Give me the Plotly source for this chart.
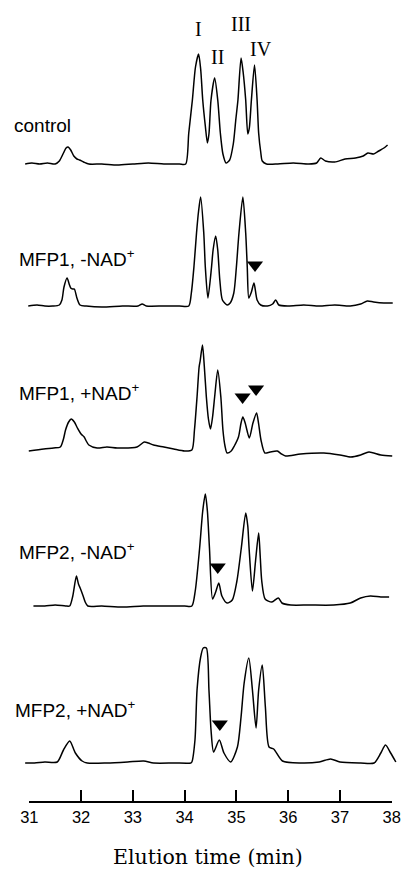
import plotly.graph_objects as go

W, H = 403, 869

# ---------------- data (elution time in min, detector signal in a.u.) ----------------
tick_vals = [31, 32, 33, 34, 35, 36, 37, 38]
tick_labels = ["31", "32", "33", "34", "35", "36", "37", "38"]

sample_names = [
    "control",
    "MFP1, -NAD<sup>+</sup>",
    "MFP1, +NAD<sup>+</sup>",
    "MFP2, -NAD<sup>+</sup>",
    "MFP2, +NAD<sup>+</sup>",
]

control_t = [30.92, 31.05, 31.20, 31.35, 31.50, 31.58, 31.66, 31.71, 31.75, 31.80, 31.86, 31.92, 31.97,
             32.05, 32.15, 32.40, 32.70, 33.00, 33.30, 33.60, 33.90, 34.02, 34.08, 34.15, 34.21, 34.27,
             34.31, 34.35, 34.40, 34.44, 34.47, 34.51, 34.58, 34.64, 34.69, 34.74, 34.80, 34.87, 34.94,
             34.99, 35.03, 35.09, 35.13, 35.18, 35.22, 35.25, 35.29, 35.35, 35.40, 35.43, 35.47, 35.50,
             35.58, 35.80, 36.10, 36.40, 36.55, 36.63, 36.72, 36.90, 37.10, 37.30, 37.45, 37.54, 37.65,
             37.75, 37.85, 37.92]
control_v = [0, 1, 0, 1, 0, 3, 11, 16, 17, 14, 8, 5, 4,
             2, 0, 0, -1, 0, 1, 0, 0, 0, 31, 64, 97, 110,
             95, 64, 38, 21, 30, 64, 86, 64, 31, 10, 1, 4, 20,
             45, 64, 106, 92, 64, 30, 36, 64, 99, 64, 31, 12, 3,
             0, 0, 1, 0, 1, 6, 3, 2, 5, 6, 8, 11, 10,
             13, 16, 19]

mfp1_minus_t = [30.98, 31.15, 31.30, 31.45, 31.58, 31.63, 31.67, 31.73, 31.77, 31.80, 31.84, 31.87, 31.92,
                31.98, 32.10, 32.40, 32.80, 33.10, 33.18, 33.26, 33.60, 33.90, 34.08, 34.13, 34.18, 34.23,
                34.27, 34.31, 34.37, 34.40, 34.45, 34.52, 34.55, 34.60, 34.64, 34.68, 34.73, 34.82, 34.88,
                34.95, 35.00, 35.05, 35.125, 35.18, 35.21, 35.24, 35.29, 35.34, 35.40, 35.47, 35.60, 35.70,
                35.76, 35.82, 36.00, 36.30, 36.60, 36.90, 37.20, 37.40, 37.53, 37.65, 37.85, 38.02]
mfp1_minus_v = [0, 1, 0, 0, 1, 6, 19, 28, 22, 18, 17, 17, 8,
                1, 0, -1, 0, 0, 2, 0, 0, 0, 0, 13, 39, 73,
                95, 109, 73, 39, 8, 39, 56, 70, 56, 26, 6, 1, 3,
                13, 39, 73, 109, 73, 39, 8, 14, 23, 6, 1, 0, 2,
                6, 1, 0, 1, 0, 1, 0, 2, 5, 4, 3, 3]

mfp1_plus_t = [30.99, 31.28, 31.47, 31.60, 31.66, 31.70, 31.76, 31.81, 31.87, 31.93, 32.00, 32.06, 32.10,
               32.15, 32.31, 32.50, 32.70, 33.08, 33.22, 33.30, 33.40, 33.60, 33.79, 34.00, 34.14, 34.19,
               34.24, 34.28, 34.30, 34.345, 34.38, 34.42, 34.46, 34.50, 34.54, 34.58, 34.64, 34.70, 34.74,
               34.78, 34.82, 34.90, 34.96, 35.04, 35.09, 35.125, 35.17, 35.25, 35.32, 35.39, 35.43, 35.475,
               35.55, 35.65, 35.79, 35.87, 35.95, 36.24, 36.69, 37.00, 37.21, 37.40, 37.56, 37.79, 38.01]
mfp1_plus_v = [0, 2, 3, 4, 12, 21, 29, 32, 29, 23, 17, 14, 10,
               6, 3, 4, 3, 4, 9, 8, 6, 4, 2, 0, 1, 21,
               54, 84, 90, 106, 85, 54, 32, 22, 34, 54, 81, 54, 21,
               5, -2, 0, 5, 14, 28, 34, 28, 13, 28, 38, 27, 11,
               -2, -1, 0, -3, -5, -3, -2, -4, -6, -4, -1, -4, -5]

mfp2_minus_t = [31.08, 31.30, 31.50, 31.70, 31.78, 31.84, 31.91, 31.95, 31.99, 32.04, 32.08, 32.13, 32.40,
                32.80, 33.20, 33.60, 34.00, 34.14, 34.205, 34.29, 34.35, 34.40, 34.44, 34.48, 34.54, 34.60,
                34.66, 34.72, 34.82, 34.92, 35.01, 35.095, 35.18, 35.22, 35.245, 35.31, 35.37, 35.43, 35.46,
                35.49, 35.555, 35.685, 35.81, 35.88, 36.05, 36.40, 36.88, 37.20, 37.40, 37.59, 37.79, 37.95]
mfp2_minus_v = [0, 0, 1, 0, 0, 10, 30, 22, 17, 10, 4, 0, 0,
                -1, 0, 0, 0, 0, 15, 58, 95, 112, 95, 58, 7, 14,
                23, 10, 3, 6, 25, 58, 93, 80, 58, 15, 45, 73, 50,
                25, 7, 4, 8, 3, 1, 1, 1, 3, 8, 10, 9, 9]

mfp2_plus_t = [30.92, 31.10, 31.30, 31.54, 31.66, 31.78, 31.89, 32.02, 32.12, 32.50, 32.90, 33.21, 33.40,
               33.80, 34.12, 34.14, 34.20, 34.24, 34.31, 34.36, 34.42, 34.47, 34.51, 34.56, 34.67, 34.76,
               34.89, 35.02, 35.09, 35.15, 35.24, 35.31, 35.38, 35.43, 35.50, 35.56, 35.63, 35.72, 35.89,
               36.24, 36.60, 36.82, 37.00, 37.40, 37.66, 37.79, 37.88, 37.98, 38.08]
mfp2_plus_v = [0, 0, 1, 1, 13, 22, 10, 2, 0, 0, 1, 2, 0,
               0, 0, 1, 23, 73, 106, 115, 115, 73, 33, 11, 23, 10,
               1, 16, 46, 80, 105, 73, 35, 73, 98, 56, 16, 14, 2,
               0, 1, 4, 1, 0, 0, 10, 18, 10, 1]

series_t = [control_t, mfp1_minus_t, mfp1_plus_t, mfp2_minus_t, mfp2_plus_t]
series_v = [control_v, mfp1_minus_v, mfp1_plus_v, mfp2_minus_v, mfp2_plus_v]

# arrowheads marking new / changed peaks: (sample index, time, signal)
arrow_sample = [1, 2, 2, 3, 4]
arrow_t = [35.36, 35.12, 35.38, 34.64, 34.68]
arrow_v = [41, 54, 62, 39, 39]

peak_names = ["I", "II", "III", "IV"]
peak_label_t = [34.264, 34.626, 35.095, 35.481]

# ---------------- layout helpers (pixel geometry) ----------------
offsets = [705, 563, 418, 263, 106]          # vertical stacking of traces
label_dy = [39, 48.5, 59, 55, 54]            # sample-name label height above baseline
label_px = [11.7, 16.7, 17.3, 16.7, 12.7]    # sample-name label left edge (px)
peak_label_y = [839.7, 812.3, 845.3, 820.3]

ax_l, ax_r = 29.3, 391.7                     # pixel x of 31 and 38 min
ppm = (ax_r - ax_l) / 7.0
x_lo = 31 - ax_l / ppm
x_hi = 38 + (W - ax_r) / ppm
axis_y = 801

fig = go.Figure()
for t, v, off in zip(series_t, series_v, offsets):
    fig.add_trace(go.Scatter(
        x=t, y=[off + s for s in v], mode="lines",
        line=dict(color="black", width=1.5, shape="spline", smoothing=0.7),
        showlegend=False, hoverinfo="skip"))

fig.add_trace(go.Scatter(
    x=arrow_t, y=[offsets[i] + v for i, v in zip(arrow_sample, arrow_v)],
    mode="markers", marker=dict(symbol="triangle-down", size=14, color="black", line=dict(width=0)),
    showlegend=False, hoverinfo="skip"))

# dummy trace for the time axis subplot
fig.add_trace(go.Scatter(x=[34.5], y=[0.5], xaxis="x2", yaxis="y2", mode="markers",
                         marker=dict(opacity=0), showlegend=False, hoverinfo="skip"))

annotations = []
for name, dy, px, off in zip(sample_names, label_dy, label_px, offsets):
    annotations.append(dict(text=name, xref="paper", yref="y", x=px / W, y=off + dy,
                            xanchor="left", yanchor="middle", showarrow=False,
                            font=dict(family="Liberation Sans, Arial", size=19, color="black")))
for name, pt, py in zip(peak_names, peak_label_t, peak_label_y):
    annotations.append(dict(text=name, xref="x", yref="y", x=pt, y=py,
                            xanchor="center", yanchor="middle", showarrow=False,
                            font=dict(family="Liberation Serif, Times New Roman", size=20, color="black")))
annotations.append(dict(text="Elution time (min)", xref="paper", yref="paper",
                        x=208.3 / W, y=12 / H, xanchor="center", yanchor="middle", showarrow=False,
                        font=dict(family="DejaVu Serif", size=20.5, color="black")))

fig.update_layout(
    width=W, height=H, margin=dict(l=0, r=0, t=0, b=0, pad=0, autoexpand=False),
    paper_bgcolor="white", plot_bgcolor="rgba(0,0,0,0)",
    xaxis=dict(domain=[0, 1], range=[x_lo, x_hi], visible=False, anchor="y", automargin=False),
    yaxis=dict(domain=[0, 1], range=[0, H], visible=False, anchor="x", automargin=False),
    xaxis2=dict(domain=[ax_l / W, ax_r / W], range=[31, 38], anchor="y2", automargin=False,
                showline=True, linecolor="black", linewidth=2,
                ticks="inside", ticklen=11, tickwidth=1.5, tickcolor="black",
                tickvals=tick_vals, ticktext=tick_labels,
                tickfont=dict(family="Liberation Sans, Arial", size=16.5, color="black"),
                showgrid=False, zeroline=False),
    yaxis2=dict(domain=[(H - axis_y) / H, (H - axis_y + 30) / H], range=[0, 1],
                visible=False, anchor="x2", automargin=False),
    annotations=annotations,
)

fig.write_html("out.html", config={"displayModeBar": False},
               post_script="document.body.style.margin='0px';document.body.style.overflow='hidden';")
